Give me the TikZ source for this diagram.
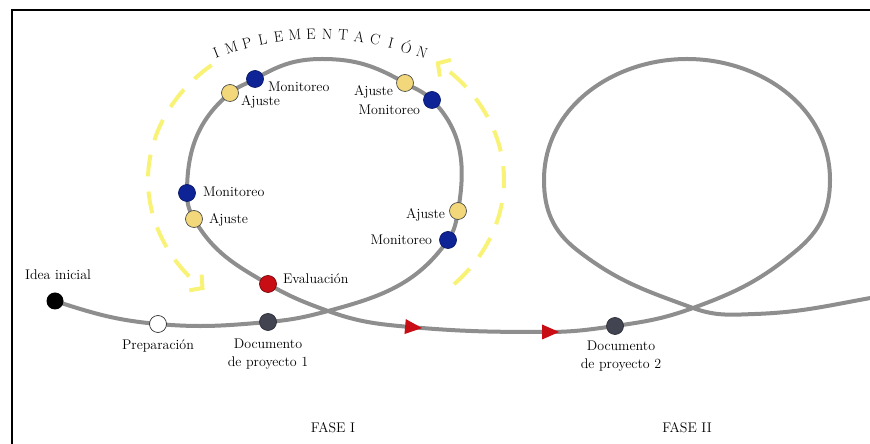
\documentclass[tikz,border=0pt]{standalone}
\usepackage{fontspec}
\usetikzlibrary{positioning, shapes.geometric, arrows.meta, backgrounds}

\definecolor{track}{RGB}{142,142,142}
\definecolor{monblue}{RGB}{14,36,150}
\definecolor{ajyellow}{RGB}{242,216,122}
\definecolor{evalred}{RGB}{200,14,20}
\definecolor{docgray}{RGB}{66,68,82}
\definecolor{impyellow}{RGB}{248,243,118}

\begin{document}
\begin{tikzpicture}[x=1pt, y=1pt, font=\fontsize{14}{18}\selectfont,
  stagedot/.style={circle, minimum size=17pt, inner sep=0pt, line width=0.7pt},
  monitor/.style={stagedot, fill=monblue, draw=monblue!70!black},
  adjust/.style={stagedot, fill=ajyellow, draw=black!70},
  lbl/.style={inner sep=1pt},
  redtip/.style={isosceles triangle, isosceles triangle stretches, fill=evalred, inner sep=0pt, minimum width=15pt, minimum height=17pt},
  trackline/.style={draw=track, line width=4pt},
  impline/.style={impyellow, line width=4pt, dash pattern=on 22pt off 15pt, -{Straight Barb[length=9pt, width=20pt]}}]

\useasboundingbox (0,0) rectangle (870,444);
\draw[line width=2pt] (12,0) -- (12,434) -- (871,434);

\node[stagedot, fill=black] (idea) at (55,143) {};
\node[stagedot, fill=white, draw=black!80] (prep) at (158,120) {};
\node[stagedot, fill=docgray, draw=docgray!70!black] (doc1) at (268,122) {};
\node[stagedot, fill=evalred, draw=evalred!60!black] (eval) at (268,160) {};
\node[stagedot, fill=docgray, draw=docgray!70!black] (doc2) at (615,118) {};
\node[monitor] (mon-r) at (448,204) {};
\node[adjust] (aj-r) at (458,233) {};
\node[monitor] (mon-tr) at (432,344) {};
\node[adjust] (aj-tr) at (405,361) {};
\node[monitor] (mon-tl) at (255,365) {};
\node[adjust] (aj-tl) at (230,351) {};
\node[monitor] (mon-l) at (187,251) {};
\node[adjust] (aj-l) at (194,225) {};

\node[redtip, rotate=-5] (tip1) at (410,117) {};
\node[redtip] (tip2) at (547,112) {};
\node[redtip, rotate=8] (tip3) at (876,147) {};

\coordinate (cross1) at (328,133);
\coordinate (loop1-top) at (322,385);
\coordinate (cross2) at (693,136);
\coordinate (loop2-in) at (797,194);
\coordinate (loop2-right) at (830,264);
\coordinate (loop2-top) at (687,385);
\coordinate (loop2-left) at (544,264);
\coordinate (loop2-out) at (577,194);
\coordinate (loop2-low) at (755,130);

\begin{scope}[on background layer]
\draw[trackline] (idea.center) to[out=-18, in=175] (prep.center)
  to[out=-5, in=185] (doc1.center) to[out=5, in=195] (cross1)
  to[out=15, in=235] (mon-r.center) to[out=55, in=260] (aj-r.center)
  to[out=80, in=-45] (mon-tr.center) to[out=135, in=-30] (aj-tr.center)
  to[out=150, in=0] (loop1-top) to[out=180, in=30] (mon-tl.center)
  to[out=210, in=40] (aj-tl.center) to[out=220, in=90] (mon-l.center)
  to[out=270, in=120] (aj-l.center) to[out=300, in=150] (eval.center)
  to[out=-30, in=160] (cross1) to[out=-20, in=175] (tip1.center)
  to[out=-5, in=180] (tip2.center) to[out=0, in=188] (doc2.center)
  to[out=8, in=200] (cross2) to[out=20, in=220] (loop2-in)
  to[out=40, in=270] (loop2-right) to[out=90, in=0] (loop2-top)
  to[out=180, in=90] (loop2-left) to[out=270, in=142] (loop2-out)
  to[out=-38, in=160] (cross2) to[out=-20, in=182] (loop2-low)
  to[out=2, in=190] (tip3.center);
\end{scope}

\node[lbl, above=11pt of idea, xshift=3pt] (idea-txt) {Idea inicial};
\node[lbl, below=6pt of prep] (prep-txt) {Preparación};
\node[lbl, below=7pt of doc1, align=center] (doc1-txt) {Documento\\de proyecto 1};
\node[lbl, right=5pt of eval, yshift=5pt] (eval-txt) {Evaluación};
\node[lbl, below=5pt of doc2, xshift=6pt, align=center] (doc2-txt) {Documento\\de proyecto 2};
\node[lbl, right=3pt of mon-tl, yshift=-8pt] (mon-tl-txt) {Monitoreo};
\node[lbl, right=1pt of aj-tl, yshift=-9pt] (aj-tl-txt) {Ajuste};
\node[lbl, left=2pt of aj-tr, yshift=-9pt] (aj-tr-txt) {Ajuste};
\node[lbl, left=2pt of mon-tr, yshift=-10pt] (mon-tr-txt) {Monitoreo};
\node[lbl, right=6pt of mon-l, yshift=1pt] (mon-l-txt) {Monitoreo};
\node[lbl, right=5pt of aj-l, yshift=-1pt] (aj-l-txt) {Ajuste};
\node[lbl, left=3pt of aj-r, yshift=-4pt] (aj-r-txt) {Ajuste};
\node[lbl, left=6pt of mon-r] (mon-r-txt) {Monitoreo};

\node (fase1) at (333,16) {FASE I};
\node (fase2) at (687,16) {FASE II};

\coordinate (imp-c) at (320,120);
\foreach \l [count=\i] in {I,M,P,L,E,M,E,N,T,A,C,I,Ó,N} {
  \pgfmathsetmacro{\ang}{114.2-3.2*\i}
  \node[inner sep=0pt, font=\fontsize{15}{18}\selectfont, rotate=\ang-90] (imp-\i) at ([shift={(\ang:290)}]imp-c) {\l};
}

\coordinate (imp-o) at (326,264);
\draw[impline] ([shift={(130:178 and 150)}]imp-o) arc[start angle=130, end angle=227, x radius=178, y radius=150];
\draw[impline] ([shift={(-44:178 and 150)}]imp-o) arc[start angle=-44, end angle=52, x radius=178, y radius=150];

\end{tikzpicture}
\end{document}
